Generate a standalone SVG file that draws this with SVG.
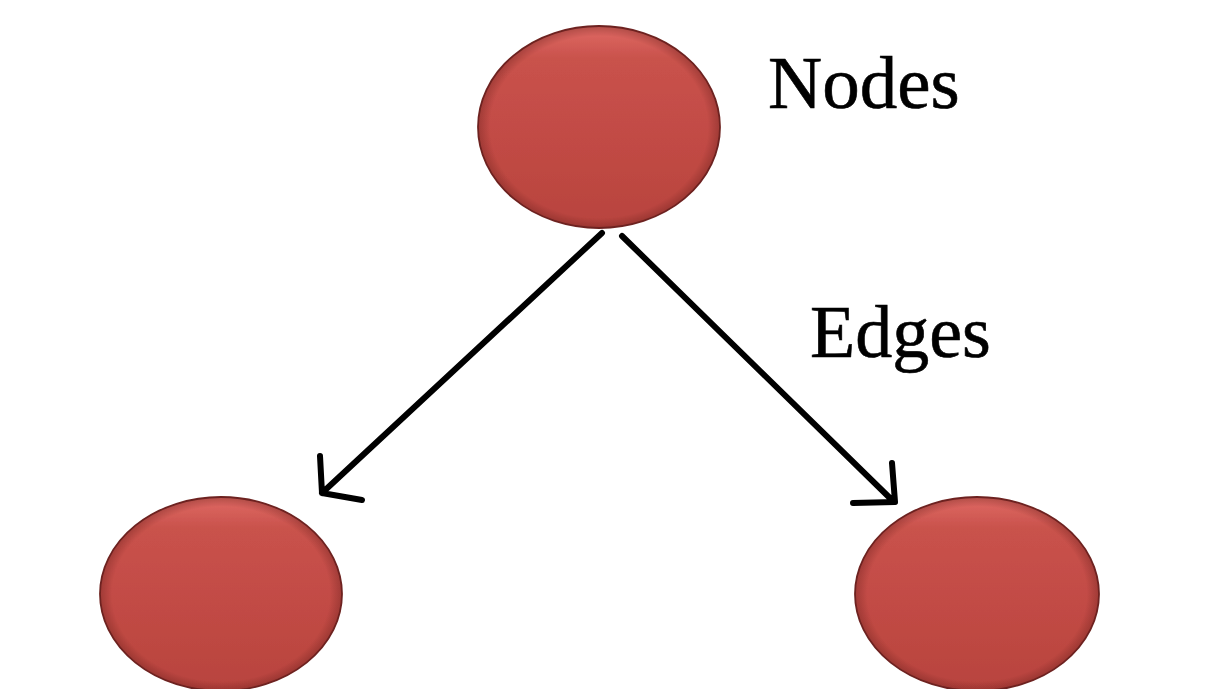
<svg xmlns="http://www.w3.org/2000/svg" width="1224" height="689" viewBox="0 0 1224 689">
  <defs>
    <linearGradient id="ballFill" x1="0" y1="0" x2="0" y2="1">
      <stop offset="0" stop-color="#e06a64"/>
      <stop offset="0.16" stop-color="#c9524c"/>
      <stop offset="0.6" stop-color="#c14a44"/>
      <stop offset="1" stop-color="#b8433e"/>
    </linearGradient>
    <radialGradient id="rim" cx="0.5" cy="0.5" r="0.5">
      <stop offset="0.9" stop-color="#6a201d" stop-opacity="0"/>
      <stop offset="1" stop-color="#6a201d" stop-opacity="0.4"/>
    </radialGradient>
    <filter id="soft" x="-10%" y="-10%" width="120%" height="120%">
      <feGaussianBlur stdDeviation="0.6"/>
    </filter>
  </defs>
  <style>
    .ball { fill: url(#ballFill); stroke: #6e2320; stroke-width: 1.8; }
    .rim { fill: url(#rim); }
    .edge { fill: none; stroke: #000; stroke-width: 6; stroke-linecap: round; stroke-linejoin: round; }
    .label { font-family: "Liberation Serif", "Times New Roman", serif; fill: #000; stroke: #000; stroke-width: 0.6; }
  </style>
  <rect width="1224" height="689" fill="#ffffff"/>

  <g id="node-top">
    <ellipse class="ball" cx="599" cy="127" rx="121" ry="101" filter="url(#soft)"/>
    <ellipse class="rim" cx="599" cy="127" rx="121" ry="101"/>
  </g>
  <g id="node-left">
    <ellipse class="ball" cx="221" cy="594" rx="121" ry="97" filter="url(#soft)"/>
    <ellipse class="rim" cx="221" cy="594" rx="121" ry="97"/>
  </g>
  <g id="node-right">
    <ellipse class="ball" cx="977" cy="594" rx="122" ry="97" filter="url(#soft)"/>
    <ellipse class="rim" cx="977" cy="594" rx="122" ry="97"/>
  </g>

  <g id="connectors">
    <path class="edge" d="M602,233 L322,493 M320,456 L322,493 L362,500"/>
    <path class="edge" d="M622,236 L894,502 M892,463 L895,502 L853,503"/>
  </g>

  <g id="labels">
    <text class="label" x="768" y="108" font-size="75">Nodes</text>
    <text class="label" x="810" y="357" font-size="74">Edges</text>
  </g>
</svg>
